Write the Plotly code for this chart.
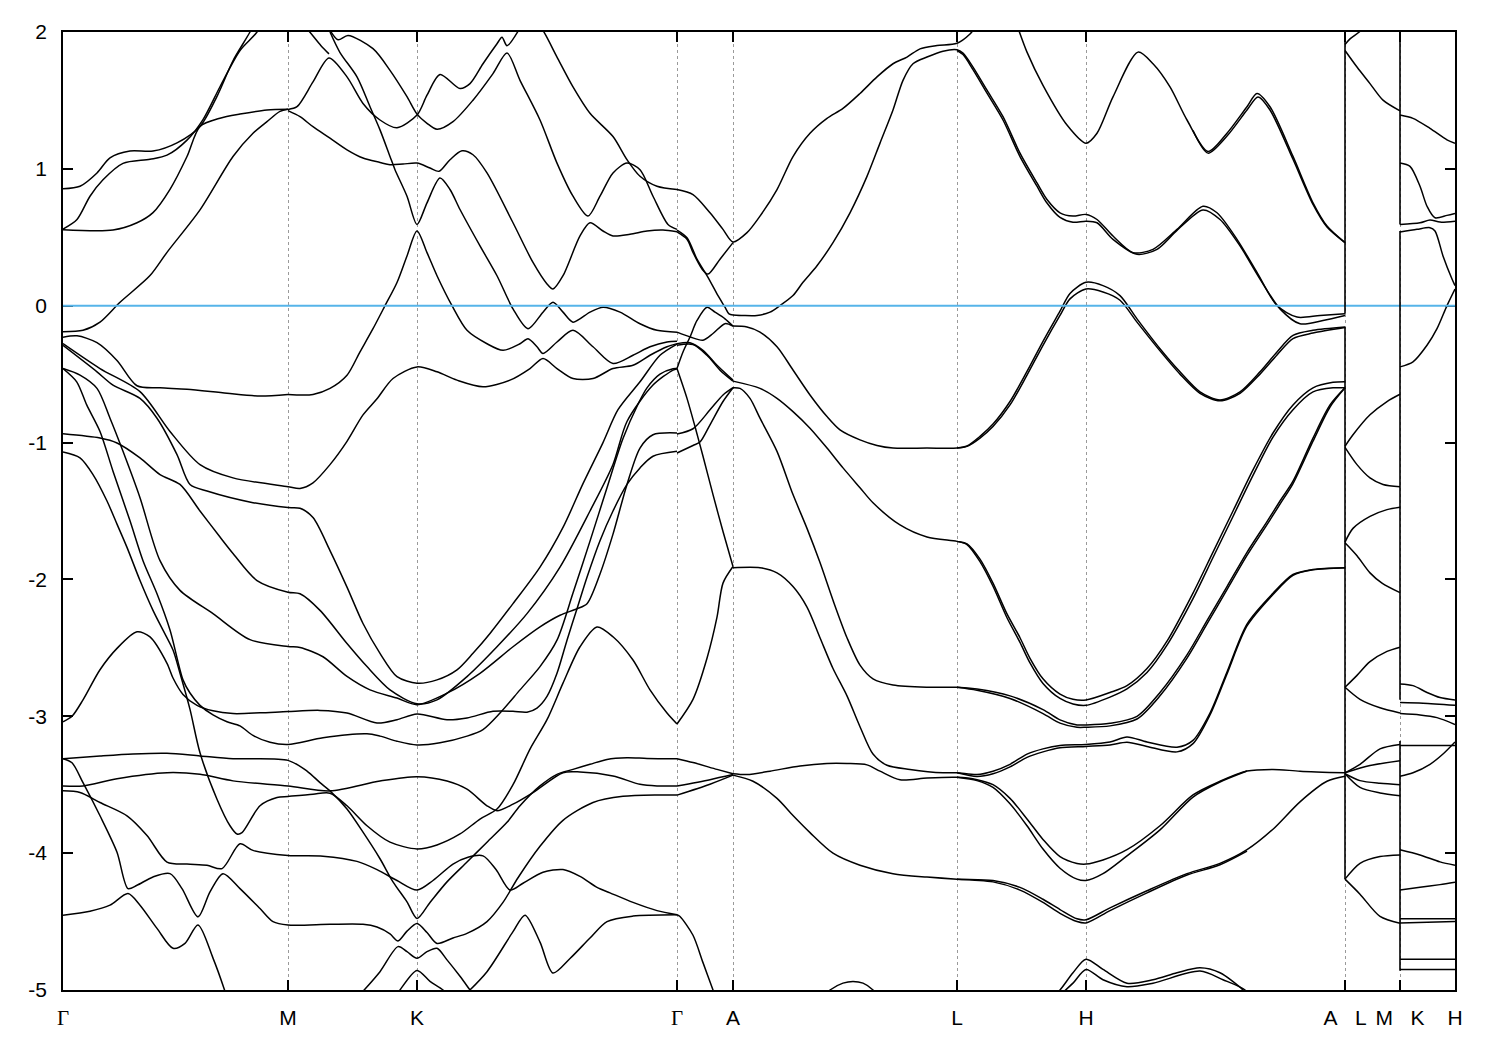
import plotly.graph_objects as go

# ---------------- high-symmetry path ----------------
kpoints = [0.00, 2.25, 3.54, 6.14, 6.70, 8.94, 10.23, 12.82, 13.37, 13.92]
klabels = ["Γ", "M", "K", "Γ", "A", "L", "H", "A\u00a0\u00a0\u00a0L", "M\u00a0\u00a0\u00a0K", "H"]
energy_ticks = [-5, -4, -3, -2, -1, 0, 1, 2]

# ---------------- bands: (k, E in eV) ----------------
# Gamma - M (upper)
gm1 = [(0.00,0.855),(0.17,0.873),(0.34,0.97),(0.47,1.08),(0.67,1.13),(0.90,1.13),(1.14,1.19),(1.37,1.31),(1.54,1.53),(1.70,1.79),(1.87,2.0),(1.95,2.12)]
gm2 = [(0.00,0.56),(0.14,0.63),(0.27,0.80),(0.40,0.92),(0.60,1.04),(0.87,1.07),(1.04,1.10),(1.24,1.21),(1.40,1.36),(1.57,1.60),(1.77,1.865),(1.94,2.0),(2.00,2.1)]
gm3 = [(0.00,0.555),(0.50,0.553),(0.74,0.606),(0.90,0.68),(1.07,0.85),(1.24,1.09),(1.37,1.31),(1.57,1.37),(1.77,1.40),(2.04,1.43),(2.25,1.435)]
gm4 = [(0.00,-0.19),(0.20,-0.18),(0.37,-0.12),(0.57,0.025),(0.87,0.22),(1.04,0.39),(1.37,0.70),(1.70,1.09),(1.90,1.26),(2.04,1.345),(2.17,1.42),(2.25,1.435)]
# M - K - Gamma (upper)
mk_top = [(2.37,2.08),(2.47,1.998),(2.58,1.90),(2.66,1.84)]
mk_p = [(2.25,1.434),(2.34,1.454),(2.50,1.635),(2.66,1.81),(2.84,1.672),(3.00,1.478),(3.17,1.357),(3.34,1.30),(3.54,1.393),(3.64,1.538),(3.77,1.69),(3.97,1.587),(4.07,1.623),(4.20,1.768),(4.34,1.914),(4.39,1.962),(4.44,1.90),(4.57,2.03)]
mk_4 = [(2.64,2.05),(2.75,1.943),(2.85,1.975),(3.10,1.878),(3.27,1.72),(3.44,1.527),(3.54,1.40),(3.64,1.333),(3.74,1.289),(3.90,1.345),(4.10,1.502),(4.30,1.696),(4.44,1.846),(4.57,1.647),(4.77,1.357),(4.94,1.042),(5.10,0.80),(5.25,0.655),(5.37,0.80),(5.50,0.97),(5.64,1.042),(5.77,0.994),(5.90,0.80),(6.05,0.594),(6.14,0.558)]
mk_2 = [(2.25,1.425),(2.37,1.381),(2.50,1.308),(2.67,1.224),(2.84,1.139),(3.00,1.079),(3.17,1.047),(3.27,1.030),(3.40,1.035),(3.54,1.042),(3.67,1.006),(3.76,0.982),(3.87,1.067),(3.99,1.132),(4.10,1.103),(4.24,0.97),(4.50,0.606),(4.70,0.316),(4.84,0.159),(4.90,0.122),(5.00,0.219),(5.17,0.51),(5.27,0.606),(5.40,0.546),(5.50,0.51),(5.67,0.522),(5.84,0.546),(6.00,0.553),(6.14,0.54)]
mk_5 = [(4.70,2.1),(4.80,2.011),(4.94,1.817),(5.10,1.599),(5.27,1.406),(5.50,1.236),(5.64,1.067),(5.77,0.946),(5.94,0.873),(6.14,0.849)]
mk_b2 = [(2.67,2.0),(2.77,1.85),(2.94,1.672),(3.07,1.454),(3.17,1.285),(3.27,1.091),(3.32,0.994),(3.44,0.80),(3.54,0.594),(3.64,0.752),(3.77,0.933),(3.87,0.849),(3.97,0.703),(4.17,0.437),(4.34,0.219),(4.50,-0.023),(4.65,-0.168),(4.80,-0.047),(4.90,0.025),(5.00,-0.047),(5.10,-0.12),(5.27,-0.047),(5.40,-0.011),(5.57,-0.047),(5.77,-0.132),(5.94,-0.18),(6.14,-0.193)]
# flat band near -0.6 and its K-point peak
gm5 = [(0.00,-0.23),(0.14,-0.22),(0.34,-0.27),(0.54,-0.40),(0.74,-0.585),(0.97,-0.60),(1.24,-0.61),(1.64,-0.64),(1.97,-0.66),(2.25,-0.648)]
mk_6 = [(2.25,-0.648),(2.50,-0.648),(2.67,-0.604),(2.84,-0.508),(2.97,-0.337),(3.10,-0.168),(3.22,0.0),(3.34,0.17),(3.44,0.364),(3.54,0.546),(3.64,0.388),(3.74,0.219),(3.89,0.0),(4.04,-0.18),(4.24,-0.278),(4.40,-0.326),(4.57,-0.278),(4.65,-0.241),(4.74,-0.30),(4.80,-0.349),(4.94,-0.265),(5.10,-0.18),(5.30,-0.30),(5.50,-0.422),(5.70,-0.362),(5.87,-0.30),(6.04,-0.265),(6.14,-0.26)]
# Gamma - M - K - Gamma valence bands
band_a = [(0.00,-0.277),(0.37,-0.459),(0.77,-0.628),(1.07,-0.919),(1.37,-1.161),(1.70,-1.258),(2.25,-1.322),(2.37,-1.335),(2.50,-1.294),(2.67,-1.161),(2.84,-0.991),(3.00,-0.798),(3.14,-0.68),(3.30,-0.532),(3.54,-0.447),(3.74,-0.483),(3.94,-0.544),(4.20,-0.592),(4.47,-0.544),(4.67,-0.459),(4.80,-0.386),(4.94,-0.459),(5.10,-0.532),(5.30,-0.532),(5.50,-0.459),(5.70,-0.435),(5.87,-0.362),(6.04,-0.30),(6.14,-0.277)]
band_b = [(0.00,-0.29),(0.34,-0.483),(0.50,-0.58),(0.77,-0.677),(0.94,-0.822),(1.14,-1.088),(1.27,-1.306),(1.44,-1.354),(1.90,-1.439),(2.25,-1.475),(2.37,-1.48),(2.50,-1.548),(2.67,-1.789),(2.84,-2.056),(3.00,-2.322),(3.17,-2.54),(3.34,-2.71),(3.54,-2.758),(3.74,-2.734),(3.94,-2.661),(4.10,-2.54),(4.27,-2.395),(4.50,-2.177),(4.77,-1.91),(5.00,-1.62),(5.20,-1.30),(5.40,-1.00),(5.55,-0.76),(5.77,-0.556),(5.97,-0.362),(6.14,-0.28)]
band_c = [(0.00,-0.459),(0.17,-0.507),(0.34,-0.604),(0.47,-0.822),(0.60,-1.064),(0.77,-1.403),(0.97,-1.863),(1.17,-2.08),(1.50,-2.25),(1.87,-2.44),(2.25,-2.49),(2.37,-2.497),(2.60,-2.565),(2.84,-2.709),(3.07,-2.807),(3.34,-2.867),(3.54,-2.915),(3.84,-2.831),(4.17,-2.686),(4.50,-2.492),(4.77,-2.347),(4.97,-2.262),(5.14,-2.214),(5.24,-2.177),(5.37,-1.96),(5.50,-1.669),(5.64,-1.306),(5.77,-1.04),(5.90,-0.943),(6.14,-0.93)]
band_d = [(0.00,-0.459),(0.137,-0.556),(0.237,-0.725),(0.37,-0.919),(0.50,-1.209),(0.67,-1.572),(0.80,-1.863),(0.94,-2.105),(1.07,-2.37),(1.20,-2.734),(1.27,-2.83),(1.37,-2.92),(1.50,-2.99),(1.64,-3.04),(1.77,-3.07),(1.90,-3.14),(2.07,-3.19),(2.25,-3.206),(2.60,-3.157),(3.04,-3.128),(3.17,-3.145),(3.34,-3.182),(3.54,-3.21),(3.77,-3.194),(4.04,-3.145),(4.20,-3.097),(4.37,-2.976),(4.57,-2.807),(4.77,-2.637),(4.94,-2.444),(5.10,-2.10),(5.27,-1.72),(5.44,-1.33),(5.60,-0.97),(5.75,-0.72),(5.84,-0.60),(5.97,-0.50),(6.10,-0.46),(6.14,-0.459)]
band_e = [(0.00,-0.936),(0.37,-0.967),(0.54,-1.003),(0.77,-1.112),(0.97,-1.234),(1.17,-1.306),(1.37,-1.50),(1.57,-1.69),(1.70,-1.81),(1.94,-2.008),(2.25,-2.093),(2.37,-2.105),(2.57,-2.226),(2.84,-2.468),(3.04,-2.637),(3.27,-2.807),(3.54,-2.909),(3.74,-2.88),(4.04,-2.71),(4.34,-2.492),(4.64,-2.25),(4.97,-1.91),(5.27,-1.50),(5.50,-1.16),(5.64,-0.846),(5.90,-0.58),(6.10,-0.47),(6.14,-0.46)]
band_f = [(0.00,-1.069),(0.17,-1.112),(0.30,-1.234),(0.44,-1.427),(0.54,-1.596),(0.64,-1.766),(0.77,-2.008),(0.90,-2.226),(1.00,-2.371),(1.10,-2.516),(1.17,-2.686),(1.27,-2.95),(1.37,-3.267),(1.54,-3.606),(1.67,-3.80),(1.74,-3.86),(1.79,-3.85),(1.97,-3.654),(2.14,-3.594),(2.25,-3.586),(2.50,-3.569),(2.67,-3.562),(2.84,-3.654),(3.04,-3.80),(3.27,-3.92),(3.54,-3.969),(3.74,-3.94),(3.97,-3.86),(4.17,-3.751),(4.34,-3.678),(4.50,-3.50),(4.67,-3.24),(4.84,-3.025),(5.00,-2.758),(5.17,-2.492),(5.34,-2.347),(5.50,-2.419),(5.70,-2.589),(5.87,-2.807),(6.04,-2.976),(6.14,-3.056)]
band_g = [(0.00,-3.04),(0.09,-3.0),(0.20,-2.88),(0.37,-2.66),(0.54,-2.504),(0.74,-2.383),(0.87,-2.42),(1.04,-2.613),(1.10,-2.72),(1.20,-2.84),(1.34,-2.92),(1.50,-2.96),(1.70,-2.98),(1.97,-2.975),(2.25,-2.965),(2.57,-2.957),(2.84,-2.976),(3.14,-3.049),(3.34,-3.025),(3.54,-2.983),(3.84,-3.025),(4.04,-3.012),(4.30,-2.964),(4.50,-2.964),(4.64,-2.97),(4.74,-2.94),(4.84,-2.855),(4.94,-2.686),(5.04,-2.444),(5.14,-2.214),(5.24,-1.984),(5.37,-1.717),(5.50,-1.50),(5.64,-1.306),(5.77,-1.185),(5.90,-1.10),(6.14,-1.064)]
band_h = [(0.00,-3.31),(0.37,-3.29),(0.70,-3.275),(1.04,-3.27),(1.37,-3.29),(1.70,-3.31),(2.25,-3.322),(2.44,-3.40),(2.57,-3.485),(2.67,-3.545),(2.84,-3.678),(3.00,-3.847),(3.17,-4.041),(3.30,-4.21),(3.44,-4.356),(3.54,-4.477),(3.67,-4.36),(3.84,-4.21),(4.04,-4.065),(4.24,-3.92),(4.44,-3.775),(4.57,-3.654),(4.77,-3.509),(4.94,-3.424),(5.10,-3.388),(5.27,-3.351),(5.44,-3.315),(5.64,-3.303),(5.84,-3.308),(6.14,-3.31)]
band_i = [(0.00,-3.509),(0.20,-3.509),(0.54,-3.456),(1.04,-3.412),(1.37,-3.424),(1.70,-3.472),(2.25,-3.509),(2.67,-3.545),(3.17,-3.473),(3.54,-3.441),(3.84,-3.473),(4.04,-3.533),(4.24,-3.654),(4.34,-3.69),(4.50,-3.642),(4.70,-3.557),(5.00,-3.412),(5.17,-3.407),(5.50,-3.436),(5.77,-3.497),(5.94,-3.509),(6.14,-3.509)]
band_j = [(0.00,-3.545),(0.17,-3.557),(0.37,-3.63),(0.64,-3.727),(0.84,-3.871),(1.04,-4.065),(1.24,-4.08),(1.44,-4.089),(1.59,-4.113),(1.77,-3.932),(1.90,-3.98),(2.25,-4.017),(2.60,-4.022),(2.94,-4.06),(3.14,-4.12),(3.34,-4.20),(3.54,-4.27),(3.70,-4.20),(3.90,-4.08),(4.05,-4.03),(4.20,-4.02),(4.33,-4.12),(4.47,-4.27),(4.60,-4.22),(4.80,-4.14),(5.00,-4.12),(5.17,-4.17),(5.34,-4.25),(5.47,-4.29),(5.70,-4.36),(5.94,-4.42),(6.14,-4.45)]
band_k = [(0.00,-3.31),(0.09,-3.34),(0.20,-3.485),(0.37,-3.727),(0.54,-3.993),(0.65,-4.259),(0.74,-4.235),(0.90,-4.174),(1.07,-4.15),(1.19,-4.259),(1.35,-4.465),(1.47,-4.283),(1.60,-4.15),(1.77,-4.259),(1.97,-4.405),(2.10,-4.5),(2.25,-4.525),(2.67,-4.52),(3.00,-4.52),(3.14,-4.54),(3.27,-4.59),(3.35,-4.642),(3.44,-4.57),(3.54,-4.514),(3.64,-4.58),(3.74,-4.66),(3.90,-4.62),(4.04,-4.586),(4.24,-4.50),(4.40,-4.36),(4.55,-4.18),(4.77,-3.95),(5.00,-3.76),(5.30,-3.63),(5.60,-3.585),(5.94,-3.575),(6.14,-3.576)]
band_l = [(0.00,-4.453),(0.27,-4.424),(0.47,-4.38),(0.65,-4.295),(0.77,-4.38),(0.94,-4.55),(1.10,-4.695),(1.22,-4.659),(1.35,-4.525),(1.50,-4.767),(1.62,-5.01),(1.70,-5.2)]
k_low1 = [(2.95,-5.05),(3.17,-4.866),(3.35,-4.683),(3.44,-4.72),(3.54,-4.768),(3.64,-4.72),(3.74,-4.695),(3.84,-4.78),(3.97,-4.90),(4.07,-5.0),(4.15,-5.08)]
k_low2 = [(3.30,-5.08),(3.37,-5.0),(3.54,-4.857),(3.67,-4.937),(3.80,-5.0),(3.85,-5.05)]
k_low3 = [(4.00,-5.05),(4.24,-4.866),(4.50,-4.574),(4.62,-4.453),(4.77,-4.65),(4.90,-4.876),(5.07,-4.77),(5.27,-4.62),(5.44,-4.50),(5.70,-4.46),(6.14,-4.45)]
# Gamma - A
ga1 = [(6.14,0.849),(6.30,0.812),(6.47,0.679),(6.60,0.558),(6.70,0.466),(6.84,0.534),(6.97,0.655),(7.14,0.849),(7.30,1.09),(7.47,1.26),(7.64,1.369),(7.80,1.442),(7.97,1.551),(8.14,1.672),(8.30,1.768),(8.44,1.817),(8.57,1.877),(8.74,1.901),(8.94,1.918),(9.07,1.986),(9.14,2.05)]
ga2a = [(6.14,0.54),(6.24,0.486),(6.30,0.389),(6.39,0.268),(6.45,0.231),(6.57,0.34),(6.70,0.461)]
ga2b = [(6.14,0.553),(6.24,0.497),(6.34,0.34),(6.45,0.207),(6.55,0.073),(6.62,-0.011),(6.66,-0.06),(6.70,-0.067)]
ga_b = [(6.14,-0.193),(6.27,-0.228),(6.40,-0.252),(6.50,-0.203),(6.62,-0.131),(6.70,-0.149)]
ga_f = [(6.14,-0.459),(6.20,-0.338),(6.27,-0.229),(6.34,-0.108),(6.44,-0.011),(6.52,-0.047),(6.62,-0.096),(6.70,-0.149)]
ga5 = [(6.14,-0.289),(6.30,-0.284),(6.44,-0.362),(6.57,-0.471),(6.70,-0.551)]
ga6 = [(6.14,-0.277),(6.27,-0.27),(6.40,-0.326),(6.54,-0.435),(6.70,-0.544)]
ga7 = [(6.14,-0.938),(6.30,-0.899),(6.47,-0.761),(6.60,-0.652),(6.70,-0.599)]
ga8 = [(6.14,-1.076),(6.30,-1.021),(6.37,-0.996),(6.47,-0.87),(6.60,-0.70),(6.70,-0.599)]
ga_e = [(6.14,-0.459),(6.24,-0.677),(6.32,-0.883),(6.40,-1.10),(6.50,-1.38),(6.60,-1.65),(6.70,-1.906)]
ga_c = [(6.14,-3.056),(6.30,-2.876),(6.44,-2.576),(6.54,-2.276),(6.60,-2.027),(6.70,-1.906)]
ga_l1 = [(6.14,-3.31),(6.30,-3.338),(6.54,-3.388),(6.70,-3.42)]
ga_l2 = [(6.14,-3.509),(6.47,-3.463),(6.70,-3.426)]
ga_l3 = [(6.14,-3.576),(6.47,-3.496),(6.70,-3.43)]
ga_l4 = [(6.14,-4.45),(6.17,-4.463),(6.30,-4.6),(6.40,-4.8),(6.50,-5.0),(6.55,-5.1)]
# A - L - H - A
al_up = [(6.70,-0.067),(6.80,-0.071),(6.94,-0.071),(7.07,-0.047),(7.17,0.001),(7.30,0.074),(7.40,0.171),(7.54,0.292),(7.70,0.461),(7.87,0.679),(8.04,0.945),(8.17,1.188),(8.30,1.43),(8.40,1.647),(8.50,1.768),(8.64,1.817),(8.80,1.86),(8.94,1.870),(9.00,1.846),(9.10,1.744),(9.24,1.575),(9.40,1.381),(9.57,1.115),(9.74,0.897),(9.84,0.776),(9.97,0.679),(10.10,0.655),(10.23,0.667),(10.34,0.63),(10.50,0.509),(10.70,0.388),(10.90,0.412),(11.14,0.558),(11.40,0.727),(11.54,0.679),(11.74,0.485),(11.94,0.243),(12.14,0.001),(12.34,-0.083),(12.57,-0.071),(12.82,-0.059)]
lh_up2 = [(8.94,1.865),(9.00,1.835),(9.10,1.725),(9.24,1.553),(9.40,1.357),(9.57,1.09),(9.74,0.873),(9.84,0.75),(9.97,0.645),(10.10,0.61),(10.23,0.618),(10.34,0.606),(10.50,0.485),(10.74,0.376),(10.94,0.412),(11.14,0.55),(11.40,0.70),(11.57,0.63),(11.77,0.437),(11.97,0.195),(12.17,-0.023),(12.37,-0.132),(12.60,-0.108),(12.82,-0.071)]
ha_top = [(9.54,2.05),(9.64,1.853),(9.80,1.61),(10.04,1.32),(10.23,1.187),(10.34,1.26),(10.50,1.526),(10.75,1.853),(10.90,1.768),(11.07,1.599),(11.24,1.357),(11.45,1.127),(11.64,1.26),(11.84,1.454),(11.94,1.551),(12.07,1.454),(12.30,1.091),(12.50,0.752),(12.64,0.582),(12.82,0.461)]
ha_top2 = [(11.30,1.28),(11.45,1.115),(11.64,1.24),(11.84,1.43),(11.95,1.525),(12.07,1.43),(12.30,1.07),(12.50,0.74),(12.64,0.575),(12.82,0.461)]
al_mid = [(6.70,-0.149),(6.84,-0.156),(6.97,-0.193),(7.14,-0.30),(7.30,-0.47),(7.47,-0.652),(7.64,-0.81),(7.77,-0.907),(7.97,-0.98),(8.14,-1.021),(8.30,-1.04),(8.64,-1.04),(8.94,-1.04),(9.04,-1.028),(9.17,-0.967),(9.30,-0.883),(9.47,-0.725),(9.64,-0.507),(9.80,-0.289),(9.97,-0.071),(10.07,0.05),(10.23,0.122),(10.40,0.10),(10.57,0.04),(10.74,-0.12),(10.97,-0.33),(11.17,-0.50),(11.37,-0.64),(11.57,-0.695),(11.77,-0.64),(11.97,-0.50),(12.14,-0.36),(12.30,-0.24),(12.50,-0.20),(12.82,-0.16)]
lh_mid2 = [(8.94,-1.04),(9.04,-1.025),(9.17,-0.955),(9.30,-0.865),(9.47,-0.70),(9.64,-0.48),(9.80,-0.26),(9.97,-0.04),(10.07,0.09),(10.23,0.171),(10.40,0.147),(10.57,0.074),(10.74,-0.096),(10.97,-0.314),(11.17,-0.483),(11.37,-0.629),(11.57,-0.689),(11.77,-0.629),(11.97,-0.483),(12.14,-0.338),(12.30,-0.217),(12.50,-0.18),(12.82,-0.156)]
al_1 = [(6.70,-0.551),(6.97,-0.604),(7.14,-0.677),(7.30,-0.774),(7.47,-0.895),(7.64,-1.04),(7.80,-1.185),(7.97,-1.33),(8.10,-1.44),(8.37,-1.602),(8.64,-1.69),(8.94,-1.722),(9.04,-1.74),(9.17,-1.852),(9.30,-2.027),(9.44,-2.252),(9.57,-2.426),(9.67,-2.576),(9.80,-2.726),(9.97,-2.838),(10.10,-2.876),(10.23,-2.881),(10.47,-2.826),(10.64,-2.776),(10.84,-2.651),(11.04,-2.451),(11.30,-2.10),(11.50,-1.80),(11.70,-1.50),(11.90,-1.20),(12.10,-0.93),(12.30,-0.725),(12.50,-0.60),(12.70,-0.56),(12.82,-0.556)]
lh_1b = [(8.94,-1.722),(9.04,-1.745),(9.17,-1.87),(9.30,-2.05),(9.44,-2.28),(9.57,-2.46),(9.67,-2.61),(9.80,-2.76),(9.97,-2.87),(10.10,-2.91),(10.23,-2.92),(10.47,-2.86),(10.64,-2.80),(10.84,-2.68),(11.04,-2.48),(11.30,-2.14),(11.50,-1.84),(11.70,-1.54),(11.90,-1.24),(12.10,-0.96),(12.30,-0.76),(12.50,-0.63),(12.70,-0.60),(12.82,-0.60)]
al_2 = [(6.70,-0.599),(6.77,-0.604),(6.87,-0.677),(6.97,-0.822),(7.14,-1.064),(7.30,-1.38),(7.44,-1.627),(7.57,-1.877),(7.70,-2.152),(7.84,-2.426),(7.97,-2.626),(8.10,-2.726),(8.30,-2.771),(8.64,-2.788),(8.94,-2.788),(9.14,-2.801),(9.47,-2.851),(9.80,-2.951),(9.97,-3.026),(10.14,-3.063),(10.23,-3.063),(10.47,-3.051),(10.74,-3.0),(10.97,-2.826),(11.24,-2.551),(11.44,-2.301),(11.64,-2.052),(11.84,-1.802),(12.04,-1.577),(12.17,-1.427),(12.30,-1.282),(12.50,-0.967),(12.67,-0.725),(12.82,-0.60)]
lh_2b = [(8.94,-2.788),(9.14,-2.81),(9.47,-2.87),(9.80,-2.98),(9.97,-3.05),(10.14,-3.08),(10.23,-3.08),(10.47,-3.07),(10.74,-3.02),(10.97,-2.85),(11.24,-2.575),(11.44,-2.325),(11.64,-2.075),(11.84,-1.825),(12.04,-1.60),(12.17,-1.45),(12.30,-1.30),(12.50,-0.99),(12.67,-0.74),(12.82,-0.60)]
al_3 = [(6.70,-1.914),(6.97,-1.914),(7.14,-1.952),(7.30,-2.052),(7.44,-2.202),(7.57,-2.426),(7.70,-2.651),(7.84,-2.851),(7.97,-3.076),(8.10,-3.276),(8.24,-3.358),(8.47,-3.388),(8.80,-3.413),(8.94,-3.413),(9.14,-3.426),(9.30,-3.401),(9.47,-3.351),(9.64,-3.276),(9.80,-3.238),(9.97,-3.213),(10.23,-3.206),(10.47,-3.188),(10.64,-3.151),(10.84,-3.188),(11.14,-3.226),(11.30,-3.176),(11.47,-2.976),(11.64,-2.676),(11.84,-2.326),(12.10,-2.101),(12.30,-1.964),(12.50,-1.927),(12.82,-1.914)]
lh_3b = [(8.94,-3.413),(9.14,-3.44),(9.30,-3.42),(9.47,-3.37),(9.64,-3.30),(9.80,-3.26),(9.97,-3.23),(10.23,-3.22),(10.47,-3.21),(10.64,-3.19),(10.84,-3.22),(11.14,-3.26),(11.30,-3.20),(11.47,-2.99),(11.64,-2.69),(11.84,-2.34),(12.10,-2.11),(12.30,-1.97),(12.50,-1.93),(12.82,-1.914)]
al_4 = [(6.70,-3.42),(6.84,-3.426),(7.07,-3.401),(7.37,-3.363),(7.64,-3.345),(7.84,-3.345),(8.04,-3.355),(8.17,-3.401),(8.37,-3.464),(8.64,-3.451),(8.94,-3.446),(9.14,-3.463),(9.30,-3.5),(9.47,-3.6),(9.64,-3.75),(9.80,-3.9),(9.97,-4.025),(10.14,-4.075),(10.23,-4.08),(10.40,-4.05),(10.64,-3.975),(10.97,-3.8),(11.30,-3.575),(11.57,-3.475),(11.84,-3.4),(12.10,-3.388),(12.37,-3.401),(12.82,-3.413)]
lh_4b = [(8.94,-3.446),(9.14,-3.47),(9.30,-3.52),(9.47,-3.64),(9.64,-3.80),(9.80,-3.97),(9.97,-4.11),(10.14,-4.19),(10.23,-4.20),(10.40,-4.15),(10.64,-4.02),(10.97,-3.83),(11.30,-3.59),(11.57,-3.48),(11.84,-3.40)]
al_5 = [(6.70,-3.43),(6.90,-3.475),(7.14,-3.6),(7.30,-3.725),(7.47,-3.85),(7.70,-4.0),(7.97,-4.088),(8.30,-4.15),(8.64,-4.175),(8.94,-4.19),(9.30,-4.2),(9.57,-4.25),(9.80,-4.337),(9.97,-4.412),(10.14,-4.48),(10.23,-4.487),(10.47,-4.4),(10.84,-4.275),(11.24,-4.15),(11.57,-4.075),(11.84,-3.975),(12.10,-3.825),(12.37,-3.625),(12.64,-3.475),(12.82,-3.438)]
lh_5b = [(8.94,-4.19),(9.30,-4.21),(9.57,-4.27),(9.80,-4.36),(9.97,-4.44),(10.14,-4.50),(10.23,-4.51),(10.47,-4.42),(10.84,-4.29),(11.24,-4.16),(11.57,-4.085),(11.84,-3.985)]
al_bump = [(7.60,-5.05),(7.67,-5.0),(7.80,-4.95),(7.90,-4.937),(8.00,-4.95),(8.10,-5.0),(8.15,-5.05)]
h_bump1 = [(9.90,-5.05),(9.97,-5.0),(10.10,-4.874),(10.23,-4.775),(10.40,-4.85),(10.64,-4.95),(10.90,-4.925),(11.14,-4.874),(11.37,-4.837),(11.57,-4.874),(11.80,-5.0),(11.85,-5.05)]
h_bump2 = [(9.95,-5.05),(10.10,-4.95),(10.23,-4.85),(10.40,-4.925),(10.64,-4.976),(10.90,-4.95),(11.37,-4.862),(11.60,-4.925),(11.82,-5.0),(11.86,-5.05)]
# L - M
lm_bands = [
    [(12.82,1.909),(12.87,1.95),(12.97,2.005),(13.02,2.05)],
    [(12.82,1.865),(12.94,1.744),(13.07,1.623),(13.20,1.502),(13.37,1.424)],
    [(12.82,-1.027),(12.90,-0.943),(13.07,-0.797),(13.24,-0.70),(13.37,-0.647)],
    [(12.82,-1.035),(12.94,-1.161),(13.07,-1.258),(13.20,-1.306),(13.37,-1.323)],
    [(12.82,-1.727),(12.90,-1.627),(13.07,-1.539),(13.24,-1.49),(13.37,-1.472)],
    [(12.82,-1.732),(12.94,-1.827),(13.07,-1.952),(13.19,-2.027),(13.37,-2.097)],
    [(12.82,-2.788),(12.94,-2.701),(13.07,-2.601),(13.24,-2.526),(13.37,-2.495)],
    [(12.82,-2.788),(12.97,-2.876),(13.17,-2.938),(13.37,-2.976)],
    [(12.82,-3.413),(12.97,-3.351),(13.17,-3.238),(13.37,-3.206)],
    [(12.82,-3.413),(13.07,-3.36),(13.37,-3.325)],
    [(12.82,-3.42),(12.97,-3.47),(13.17,-3.49),(13.37,-3.5)],
    [(12.82,-3.42),(12.97,-3.52),(13.17,-3.56),(13.37,-3.58)],
    [(12.82,-4.19),(12.97,-4.075),(13.17,-4.025),(13.37,-4.013)],
    [(12.82,-4.19),(12.97,-4.3),(13.17,-4.462),(13.37,-4.512)],
]
# K - H
kh_bands = [
    [(13.37,1.393),(13.50,1.369),(13.67,1.296),(13.84,1.212),(13.92,1.187)],
    [(13.37,1.042),(13.47,1.018),(13.57,0.873),(13.64,0.727),(13.72,0.643),(13.84,0.66),(13.92,0.674)],
    [(13.37,0.594),(13.57,0.606),(13.67,0.626),(13.77,0.611),(13.92,0.618)],
    [(13.37,0.539),(13.54,0.558),(13.67,0.57),(13.72,0.546),(13.80,0.364),(13.89,0.195),(13.92,0.147)],
    [(13.37,-0.447),(13.50,-0.41),(13.64,-0.289),(13.74,-0.168),(13.84,0.001),(13.92,0.122)],
    [(13.37,-2.764),(13.50,-2.776),(13.64,-2.826),(13.77,-2.863),(13.92,-2.881)],
    [(13.37,-2.90),(13.60,-2.905),(13.92,-2.92)],
    [(13.37,-2.98),(13.57,-2.99),(13.74,-3.01),(13.92,-3.06)],
    [(13.37,-3.438),(13.50,-3.413),(13.67,-3.351),(13.80,-3.276),(13.92,-3.188)],
    [(13.37,-3.213),(13.92,-3.213)],
    [(13.37,-3.975),(13.57,-4.013),(13.77,-4.064),(13.92,-4.088)],
    [(13.37,-4.27),(13.57,-4.25),(13.77,-4.23),(13.92,-4.213)],
    [(13.37,-4.48),(13.92,-4.48)],
    [(13.37,-4.51),(13.92,-4.50)],
    [(13.37,-4.775),(13.92,-4.775)],
    [(13.37,-4.85),(13.92,-4.85)],
]
# solid vertical jumps of the band path at the two path breaks (k, E from, E to)
break_segments = [
    (12.82, -4.19, -0.156), (12.82, -0.059, 2.0),
    (13.37, -4.86, -3.18), (13.37, -2.88, 0.546), (13.37, 0.594, 2.0),
]

bands = [gm1, gm2, gm3, gm4, mk_top, mk_p, mk_4, mk_2, mk_5, mk_b2, gm5, mk_6,
         band_a, band_b, band_c, band_d, band_e, band_f, band_g, band_h, band_i,
         band_j, band_k, band_l, k_low1, k_low2, k_low3,
         ga1, ga2a, ga2b, ga_b, ga_f, ga5, ga6, ga7, ga8, ga_e, ga_c,
         ga_l1, ga_l2, ga_l3, ga_l4,
         al_up, lh_up2, ha_top, ha_top2, al_mid, lh_mid2, al_1, lh_1b, al_2, lh_2b,
         al_3, lh_3b, al_4, lh_4b, al_5, lh_5b, al_bump, h_bump1, h_bump2] + lm_bands + kh_bands

# ---------------- figure ----------------
FONT = "Liberation Sans, Arial, Helvetica, sans-serif"
fig = go.Figure()

for b in bands:
    ks = [p[0] for p in b]
    es = [p[1] for p in b]
    fig.add_trace(go.Scatter(x=ks, y=es, mode="lines",
                             line=dict(color="black", width=1.5, shape="spline", smoothing=0.8),
                             hoverinfo="skip", showlegend=False))

shapes = []
shapes.append(dict(type="line", xref="x", yref="y", x0=kpoints[0], x1=kpoints[-1], y0=0, y1=0,
                   line=dict(color="#56b4e9", width=2), layer="above"))
for (kx, e0, e1) in break_segments:
    shapes.append(dict(type="line", xref="x", yref="y", x0=kx, x1=kx, y0=e0, y1=e1,
                       line=dict(color="black", width=1.6), layer="above"))
fig.update_layout(shapes=shapes)

ticktext = []
for lab in klabels:
    if lab == "Γ":
        ticktext.append("<span style='font-family:Liberation Serif, DejaVu Serif, serif'>Γ</span>")
    else:
        ticktext.append(lab)

fig.update_layout(
    width=1484, height=1034,
    margin=dict(l=55, r=37, t=20, b=50),
    paper_bgcolor="white", plot_bgcolor="white",
    font=dict(family=FONT, size=21, color="black"),
    xaxis=dict(range=[kpoints[0], kpoints[-1]], tickmode="array", tickvals=kpoints, ticktext=ticktext,
               ticks="inside", ticklen=10, tickwidth=1.5, tickcolor="black",
               showline=True, linecolor="black", linewidth=1.6, mirror="ticks",
               showgrid=True, gridcolor="#9a9a9a", gridwidth=1, griddash="3px,3px",
               zeroline=False, ticklabelstandoff=8),
    yaxis=dict(range=[-5, 2], tickmode="array", tickvals=energy_ticks,
               ticktext=[str(v) for v in energy_ticks],
               ticks="inside", ticklen=10, tickwidth=1.5, tickcolor="black",
               showline=True, linecolor="black", linewidth=1.6, mirror="ticks",
               showgrid=False, zeroline=False, ticklabelstandoff=10),
)

fig.write_html("out.html")
